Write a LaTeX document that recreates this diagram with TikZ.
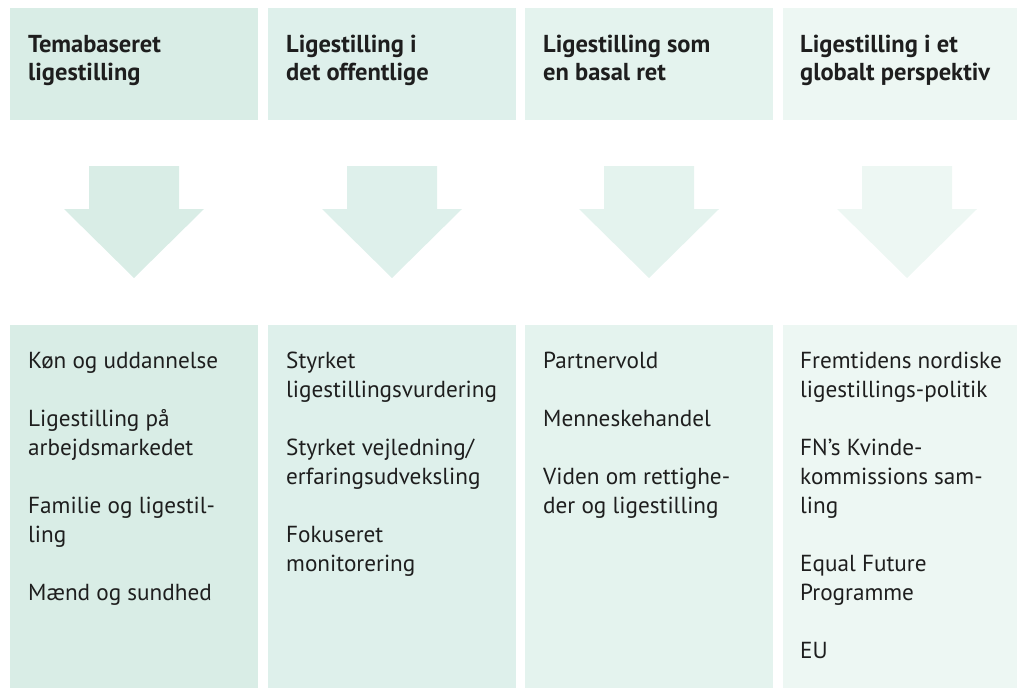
\documentclass[tikz,border=0pt]{standalone}
\usepackage{fontspec}
\setmainfont{PT Sans}
\definecolor{cA}{RGB}{217,237,230}
\definecolor{cB}{RGB}{222,240,235}
\definecolor{cC}{RGB}{228,243,238}
\definecolor{cD}{RGB}{237,247,243}
\definecolor{txt}{RGB}{30,30,30}
\begin{document}
\begin{tikzpicture}[x=1pt,y=-1pt,
  head/.style={anchor=base west,inner sep=0pt,text=txt,font=\fontsize{24.5}{28}\selectfont\bfseries},
  item/.style={anchor=base west,inner sep=0pt,text=txt,font=\fontsize{23.2}{28}\selectfont}]
\useasboundingbox (0,0) rectangle (1017,688);
% columns: left x, color
\foreach \n/\xl/\c in {1/10/cA,2/268/cB,3/525/cC,4/783/cD}{
  \fill[\c] (\xl,8) rectangle (\xl+248,120);
  \fill[\c] (\xl,325) rectangle ({min(\xl+248,1017)},688);
  \pgfmathsetmacro\cx{\xl+124}
  \fill[\c] (\cx-45,166) -- (\cx+45,166) -- (\cx+45,209) -- (\cx+70,209)
     -- (\cx,278) -- (\cx-70,209) -- (\cx-45,209) -- cycle;
}
% headers
\node[head] (h1a) at (28,52) {Temabaseret};
\node[head] (h1b) at (28,80) {ligestilling};
\node[head] (h2a) at (286,52) {Ligestilling i};
\node[head] (h2b) at (286,80) {det offentlige};
\node[head] (h3a) at (543,52) {Ligestilling som};
\node[head] (h3b) at (543,80) {en basal ret};
\node[head] (h4a) at (800,52) {Ligestilling i et};
\node[head] (h4b) at (800,80) {globalt perspektiv};
% column 1
\node[item] (a1) at (28,368) {Køn og uddannelse};
\node[item] (a2) at (28,426) {Ligestilling på};
\node[item] (a3) at (28,455) {arbejdsmarkedet};
\node[item] (a4) at (28,513) {Familie og ligestil-};
\node[item] (a5) at (28,542) {ling};
\node[item] (a6) at (28,600) {Mænd og sundhed};
% column 2
\node[item] (b1) at (286,368) {Styrket};
\node[item] (b2) at (286,397) {ligestillingsvurdering};
\node[item] (b3) at (286,455) {Styrket vejledning/};
\node[item] (b4) at (286,484) {erfaringsudveksling};
\node[item] (b5) at (286,542) {Fokuseret};
\node[item] (b6) at (286,571) {monitorering};
% column 3
\node[item] (c1) at (543,368) {Partnervold};
\node[item] (c2) at (543,426) {Menneskehandel};
\node[item] (c3) at (543,484) {Viden om rettighe-};
\node[item] (c4) at (543,513) {der og ligestilling};
% column 4
\node[item] (d1) at (800,368) {Fremtidens nordiske};
\node[item] (d2) at (800,397) {ligestillings-politik};
\node[item] (d3) at (800,455) {FN’s Kvinde-};
\node[item] (d4) at (800,484) {kommissions sam-};
\node[item] (d5) at (800,513) {ling};
\node[item] (d6) at (800,571) {Equal Future};
\node[item] (d7) at (800,600) {Programme};
\node[item] (d8) at (800,658) {EU};
\end{tikzpicture}
\end{document}
